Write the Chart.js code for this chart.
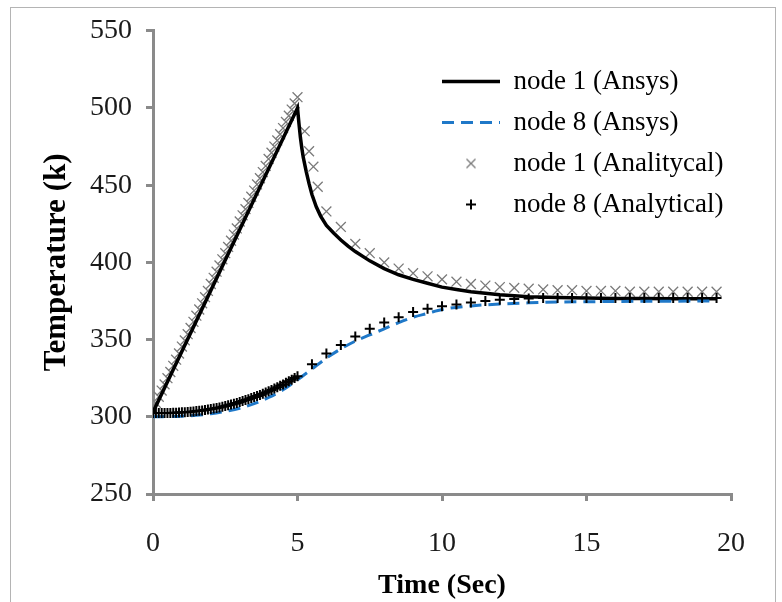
<!DOCTYPE html>
<html>
<head>
<meta charset="utf-8">
<script src="https://cdn.jsdelivr.net/npm/chart.js@4"></script>
<style>
  html, body { margin: 0; padding: 0; background: #fff; }
  canvas { display: block; }
</style>
</head>
<body>
<canvas id="chart" width="782" height="602"></canvas>
<script>
/* ─── Data ───────────────────────────────────────────────────────────────── */
const node1AnsysTime = [0, 5, 5.05, 5.1, 5.15, 5.2, 5.3, 5.4, 5.5, 5.65, 5.8, 6, 6.25, 6.5, 6.75, 7,
  7.5, 8, 8.5, 9, 9.5, 10, 10.5, 11, 12, 13, 14, 15, 16, 17, 18, 19.5];
const node1AnsysTemp = [303, 500, 490, 481, 474, 468, 459, 451, 444, 436, 430, 424, 419, 414.5, 410.5, 407,
  401, 396, 392, 389, 386.5, 384, 382.5, 381, 379, 377.8, 377.2, 376.9, 376.7, 376.6, 376.5, 376.5];

const node8AnsysTime = [0, 1, 1.5, 2, 2.5, 3, 3.5, 4, 4.5, 5, 5.5, 6, 6.5, 7, 7.5, 8, 8.5, 9, 9.5, 10,
  11, 12, 13, 14, 15, 16, 17, 18, 19.5];
const node8AnsysTemp = [300, 300.4, 301, 302, 303.5, 305.5, 308.5, 312.5, 317.5, 324, 331, 338, 344, 349, 353,
  357, 361, 364.5, 367, 369.5, 371.8, 373, 373.8, 374.3, 374.5, 374.7, 374.8, 374.9, 375];

const node1AnalyticTime = [0, 0.1, 0.2, 0.3, 0.4, 0.5, 0.6, 0.7, 0.8, 0.9, 1, 1.1, 1.2, 1.3, 1.4, 1.5,
  1.6, 1.7, 1.8, 1.9, 2, 2.1, 2.2, 2.3, 2.4, 2.5, 2.6, 2.7, 2.8, 2.9, 3, 3.1, 3.2, 3.3, 3.4, 3.5, 3.6,
  3.7, 3.8, 3.9, 4, 4.1, 4.2, 4.3, 4.4, 4.5, 4.6, 4.7, 4.8, 4.9, 5,
  5.25, 5.4, 5.55, 5.7, 6, 6.5, 7, 7.5, 8, 8.5, 9, 9.5, 10, 10.5, 11, 11.5, 12, 12.5, 13, 13.5, 14,
  14.5, 15, 15.5, 16, 16.5, 17, 17.5, 18, 18.5, 19, 19.5];
const node1AnalyticTemp = [305, 309, 313, 317, 321, 325, 329, 333, 337, 341, 345.5, 349.5, 353.5, 357.5,
  361.5, 365.5, 369.5, 373.5, 377.5, 381.5, 386, 390, 394, 398, 402, 406, 410, 414, 418, 422, 426.5,
  430.5, 434.5, 438.5, 442.5, 446.5, 450.5, 454.5, 458.5, 462.5, 467, 471, 475, 479, 483, 487, 491,
  495, 499, 503, 507,
  485, 472, 462, 449, 433, 423, 412, 406, 400, 396, 393, 391, 389, 387.5, 386, 385, 384, 383.5, 383,
  382.5, 382, 382, 381.5, 381.5, 381.5, 381, 381, 381, 381, 381, 381, 381];

const node8AnalyticTime = [0, 0.1, 0.2, 0.3, 0.4, 0.5, 0.6, 0.7, 0.8, 0.9, 1, 1.1, 1.2, 1.3, 1.4, 1.5,
  1.6, 1.7, 1.8, 1.9, 2, 2.1, 2.2, 2.3, 2.4, 2.5, 2.6, 2.7, 2.8, 2.9, 3, 3.1, 3.2, 3.3, 3.4, 3.5, 3.6,
  3.7, 3.8, 3.9, 4, 4.1, 4.2, 4.3, 4.4, 4.5, 4.6, 4.7, 4.8, 4.9, 5,
  5.5, 6, 6.5, 7, 7.5, 8, 8.5, 9, 9.5, 10, 10.5, 11, 11.5, 12, 12.5, 13, 13.5, 14, 14.5, 15, 15.5,
  16, 16.5, 17, 17.5, 18, 18.5, 19, 19.5];
const node8AnalyticTemp = [302.5, 302.5, 302.5, 302.5, 302.5, 302.5, 302.5, 302.6, 302.7, 302.8,
  302.9, 303, 303.1, 303.3, 303.5, 303.7, 303.9, 304.1, 304.4, 304.7,
  305, 305.3, 305.7, 306.1, 306.5, 307, 307.5, 308, 308.5, 309,
  309.6, 310.2, 310.8, 311.4, 312.1, 312.8, 313.5, 314.2, 315, 315.8,
  316.6, 317.4, 318.3, 319.2, 320.1, 321, 322, 323, 324, 325.1, 326.2,
  334, 341, 346.5, 352, 357, 361, 364.5, 367.8, 370, 371.6, 372.8, 374, 375, 375.8, 376.3, 376.6,
  377, 377, 377, 377, 377, 377, 377, 377, 377, 377, 377, 377, 377];

const seriesLabels = ['node 1 (Ansys)', 'node 8 (Ansys)', 'node 1 (Analitycal)', 'node 8 (Analytical)'];
const xTicks = [0, 5, 10, 15, 20];
const yTicks = [250, 300, 350, 400, 450, 500, 550];

/* ─── Helpers ────────────────────────────────────────────────────────────── */
const SERIF = "'Liberation Serif', 'Times New Roman', serif";
const AXIS_GREY = '#8a8a8a';
const CROSS_GREY = '#7a7a7a';
const BLUE = '#1f78c8';

function pairs(xs, ys) {
  return xs.map((x, i) => ({ x, y: ys[i] }));
}

// small legend icons so the marker keeps its own size inside a wide legend box
function markerIcon(kind) {
  const c = document.createElement('canvas');
  c.width = 14; c.height = 14;
  const g = c.getContext('2d');
  g.beginPath();
  if (kind === 'x') {
    g.strokeStyle = CROSS_GREY; g.lineWidth = 1.3;
    g.moveTo(2.5, 2.5); g.lineTo(11.5, 11.5);
    g.moveTo(11.5, 2.5); g.lineTo(2.5, 11.5);
  } else {
    g.strokeStyle = '#000'; g.lineWidth = 2;
    g.moveTo(7, 2); g.lineTo(7, 12);
    g.moveTo(2, 7); g.lineTo(12, 7);
  }
  g.stroke();
  return c;
}

const frame = {
  id: 'frame',
  beforeDraw(chart) {
    const { ctx } = chart;
    ctx.save();
    ctx.strokeStyle = '#b4b4b4';
    ctx.lineWidth = 1;
    ctx.strokeRect(10.5, 7.5, 765, 620);
    ctx.restore();
  }
};

const placeLegend = {
  id: 'placeLegend',
  afterLayout(chart) {
    const lg = chart.legend;
    if (!lg) return;
    const w = lg.width, h = lg.height;
    lg.left = 428; lg.top = 54;
    lg.right = lg.left + w; lg.bottom = lg.top + h;
  }
};

/* ─── Chart ──────────────────────────────────────────────────────────────── */
const xIcon = markerIcon('x');
const plusIcon = markerIcon('+');

new Chart(document.getElementById('chart'), {
  type: 'scatter',
  data: {
    datasets: [
      {
        label: seriesLabels[2],
        data: pairs(node1AnalyticTime, node1AnalyticTemp),
        showLine: false,
        pointStyle: 'crossRot',
        pointRadius: 7,
        borderColor: CROSS_GREY,
        backgroundColor: CROSS_GREY,
        borderWidth: 1.3,
        order: 4
      },
      {
        label: seriesLabels[0],
        data: pairs(node1AnsysTime, node1AnsysTemp),
        showLine: true,
        borderColor: '#000',
        borderWidth: 3.5,
        pointRadius: 0,
        tension: 0,
        order: 3
      },
      {
        label: seriesLabels[1],
        data: pairs(node8AnsysTime, node8AnsysTemp),
        showLine: true,
        borderColor: BLUE,
        borderWidth: 3,
        borderDash: [12, 7],
        pointRadius: 0,
        cubicInterpolationMode: 'monotone',
        order: 2
      },
      {
        label: seriesLabels[3],
        data: pairs(node8AnalyticTime, node8AnalyticTemp),
        showLine: false,
        pointStyle: 'cross',
        pointRadius: 5,
        borderColor: '#000',
        backgroundColor: '#000',
        borderWidth: 2,
        order: 1
      }
    ]
  },
  options: {
    responsive: false,
    animation: false,
    events: [],
    layout: { padding: { left: 0, top: 30, right: 51, bottom: 0 } },
    plugins: {
      tooltip: { enabled: false },
      legend: {
        position: 'chartArea',
        align: 'start',
        labels: {
          usePointStyle: true,
          pointStyleWidth: 58,
          boxHeight: 8,
          padding: 14,
          color: '#1a1a1a',
          font: { family: SERIF, size: 27 },
          generateLabels: () => [
            { text: seriesLabels[0], pointStyle: 'line', strokeStyle: '#000', fillStyle: '#000',
              lineWidth: 3.5, lineDash: [], datasetIndex: 1 },
            { text: seriesLabels[1], pointStyle: 'line', strokeStyle: BLUE, fillStyle: BLUE,
              lineWidth: 3, lineDash: [12, 7], datasetIndex: 2 },
            { text: seriesLabels[2], pointStyle: xIcon, strokeStyle: CROSS_GREY, fillStyle: CROSS_GREY,
              lineWidth: 0, datasetIndex: 0 },
            { text: seriesLabels[3], pointStyle: plusIcon, strokeStyle: '#000', fillStyle: '#000',
              lineWidth: 0, datasetIndex: 3 }
          ]
        }
      }
    },
    scales: {
      x: {
        type: 'linear',
        min: xTicks[0],
        max: xTicks[xTicks.length - 1],
        afterBuildTicks: s => { s.ticks = xTicks.map(v => ({ value: v })); },
        afterFit: s => { s.height = 108; },
        ticks: { color: '#1a1a1a', padding: 26, font: { family: SERIF, size: 28 } },
        grid: { drawOnChartArea: false, tickLength: 7, color: AXIS_GREY, lineWidth: 3 },
        border: { color: AXIS_GREY, width: 3 },
        title: {
          display: true,
          text: 'Time (Sec)',
          color: '#000',
          font: { family: SERIF, size: 28, weight: 'bold' },
          padding: { top: 0, bottom: -1 }
        }
      },
      y: {
        min: yTicks[0],
        max: yTicks[yTicks.length - 1],
        afterBuildTicks: s => { s.ticks = yTicks.map(v => ({ value: v })); },
        afterFit: s => { s.width = 153; },
        ticks: { color: '#1a1a1a', padding: 14, font: { family: SERIF, size: 28 } },
        grid: { drawOnChartArea: false, tickLength: 7, color: AXIS_GREY, lineWidth: 3 },
        border: { color: AXIS_GREY, width: 3 },
        title: {
          display: true,
          text: 'Temperature (k)',
          color: '#000',
          font: { family: SERIF, size: 31, weight: 'bold' },
          padding: { top: 38, bottom: 0 }
        }
      }
    }
  },
  plugins: [frame, placeLegend]
});
</script>
</body>
</html>
